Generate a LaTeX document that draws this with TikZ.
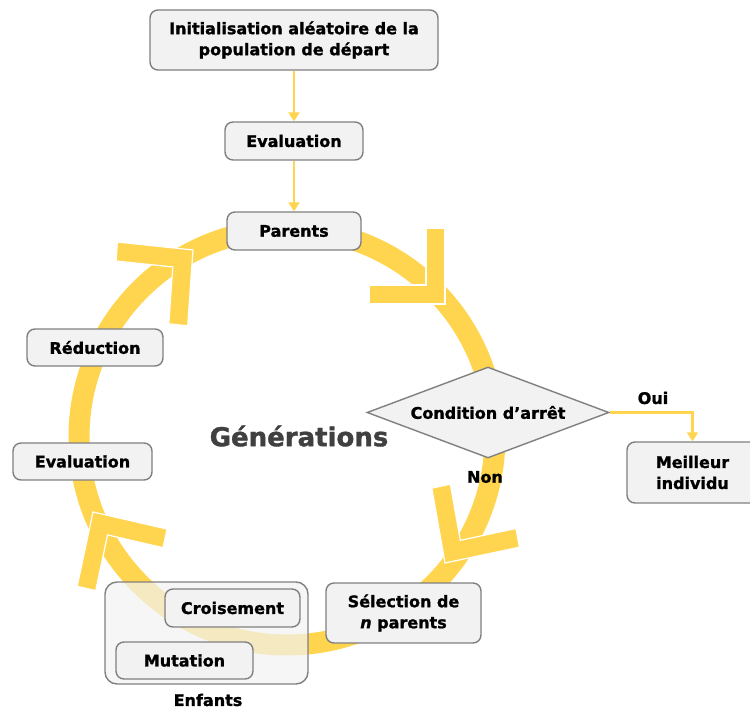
\documentclass[tikz,border=0pt]{standalone}
\usepackage{fontspec}
\setmainfont{DejaVu Sans}[BoldFeatures={FakeBold=1.3}, BoldItalicFeatures={FakeBold=1.3}]
\usetikzlibrary{calc,shapes.geometric,arrows.meta}
\definecolor{ringyellow}{RGB}{255,213,79}
\definecolor{boxfill}{RGB}{242,242,242}
\definecolor{boxdraw}{RGB}{128,128,128}
\definecolor{gentext}{RGB}{64,64,64}
\newcommand\mychev[3]{%
  \filldraw[chev] (#1) -- ($(#1)+(#2:76)$) -- ($(#1)+(#2:76)+(#3:19)$)
    -- ($(#1)+(#2:19)+(#3:19)$) -- ($(#1)+(#3:76)+(#2:19)$) -- ($(#1)+(#3:76)$) -- cycle;}
\begin{document}
\begin{tikzpicture}[x=1pt,y=1pt,
  box/.style={draw=boxdraw, fill=boxfill, line width=1.4pt, rounded corners=8pt,
    align=center, font=\fontsize{16}{21}\selectfont\bfseries, inner sep=0pt},
  lbl/.style={font=\fontsize{16}{21}\selectfont\bfseries},
  flow/.style={draw=ringyellow, line width=2.5pt, -{Triangle[width=11pt,length=9pt]}},
  chev/.style={fill=ringyellow, draw=white, line width=1.2pt, line join=miter}]
\useasboundingbox (0,0) rectangle (750,-709);

% ring
\coordinate (c) at (287,-437);
\draw[ringyellow, line width=21pt] (c) circle (208);

% chevron arrowheads
\coordinate (ctl) at (193,-250);
\coordinate (ctr) at (445,-304);
\coordinate (cbr) at (445,-563);
\coordinate (cbl) at (93,-512);
\mychev{ctl}{174}{266}
\mychev{ctr}{90}{180}
\mychev{cbr}{100}{12}
\mychev{cbl}{-13}{258}

% top chain
\node[box, minimum width=288pt, minimum height=60pt] (init) at (294,-40)
  {Initialisation aléatoire de la\\population de départ};
\node[box, minimum width=138pt, minimum height=38pt] (eval1) at (294,-141) {Evaluation};
\node[box, minimum width=134pt, minimum height=38pt] (parents) at (294,-231) {Parents};
\draw[flow] (init) -- (eval1);
\draw[flow] (eval1) -- (parents);

% left boxes
\node[box, minimum width=136pt, minimum height=37pt] (reduc) at (95,-347.5) {Réduction};
\node[box, minimum width=139pt, minimum height=37pt] (eval2) at (82.5,-461.5) {Evaluation};

% generations
\node[font=\fontsize{26}{30}\selectfont\bfseries, text=gentext] (gen) at (299,-436) {Générations};

% diamond
\node[diamond, draw=boxdraw, fill=boxfill, line width=1.4pt, aspect=2.66,
  minimum width=242pt, minimum height=91pt, inner sep=0pt,
  font=\fontsize{16}{21}\selectfont\bfseries] (cond) at (488,-412.5) {Condition d’arrêt};
\node[box, minimum width=131pt, minimum height=61pt] (best) at (692.5,-472.5) {Meilleur\\individu};
\draw[flow] (cond.east) -| (best.north);
\node[lbl] (oui) at (653,-398) {Oui};
\node[lbl] (non) at (485,-477) {Non};

% selection
\node[box, minimum width=155pt, minimum height=60pt] (sel) at (403.5,-613)
  {Sélection de\\\textit{n} parents};

% enfants
\node[draw=boxdraw, fill=boxfill, fill opacity=0.7, line width=1.4pt, rounded corners=12pt,
  minimum width=203pt, minimum height=102pt, inner sep=0pt] (enf) at (206.5,-633) {};
\node[box, minimum width=135pt, minimum height=38pt] (crois) at (232.5,-608) {Croisement};
\node[box, minimum width=137pt, minimum height=37pt] (mut) at (184.5,-660.5) {Mutation};
\node[lbl] (enflbl) at (208,-700) {Enfants};
\end{tikzpicture}
\end{document}
